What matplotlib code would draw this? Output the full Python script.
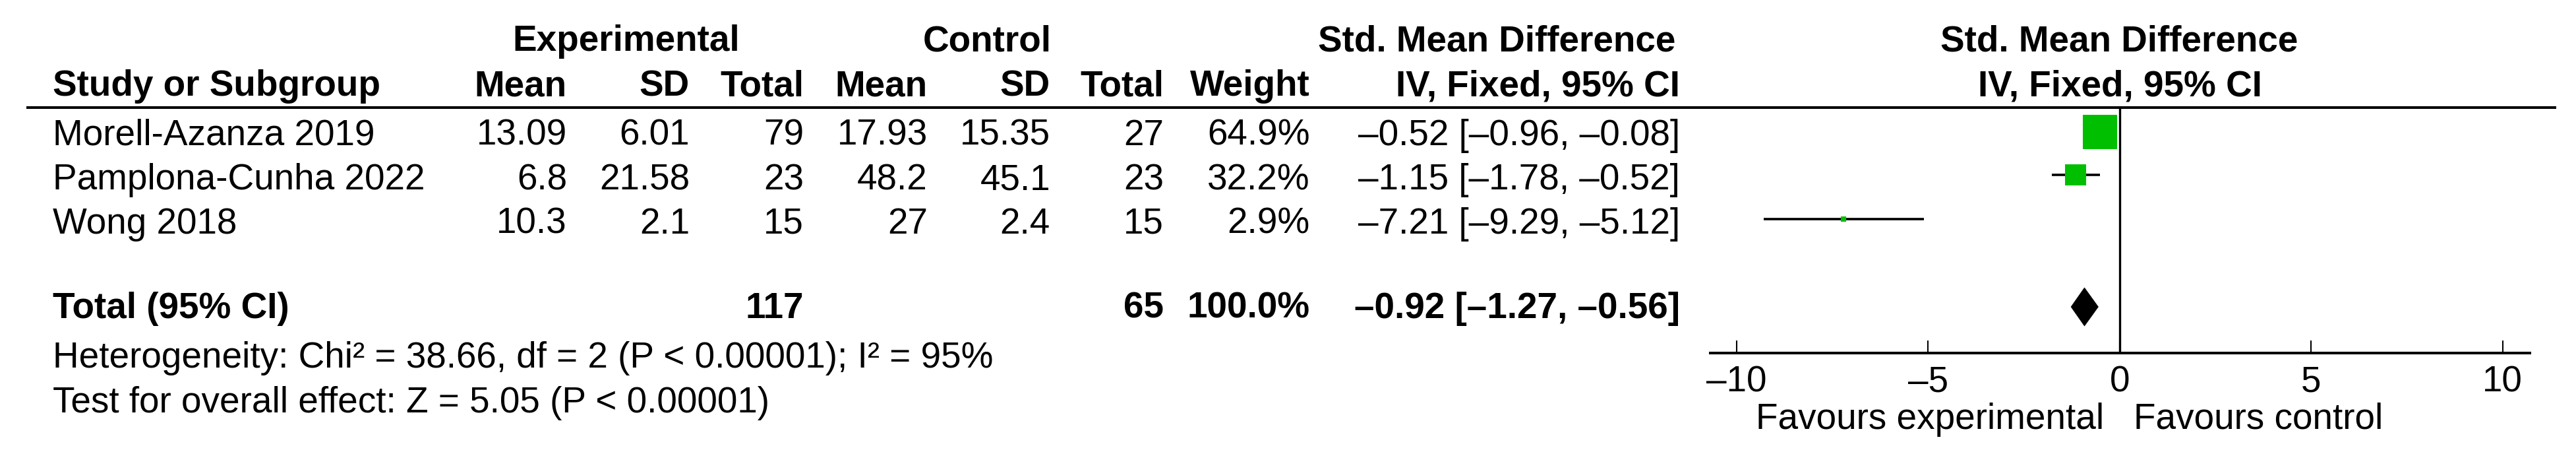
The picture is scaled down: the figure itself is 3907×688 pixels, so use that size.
import matplotlib
matplotlib.use("Agg")
import matplotlib.pyplot as plt
from matplotlib.patches import Polygon

# ---------------- data ----------------
studies = ["Morell-Azanza 2019", "Pamplona-Cunha 2022", "Wong 2018"]
exp_mean = ["13.09", "6.8", "10.3"]
exp_sd = ["6.01", "21.58", "2.1"]
exp_n = [79, 23, 15]
ctl_mean = ["17.93", "48.2", "27"]
ctl_sd = ["15.35", "45.1", "2.4"]
ctl_n = [27, 23, 15]
weights = [64.9, 32.2, 2.9]
smd = [-0.52, -1.15, -7.21]
ci_lo = [-0.96, -1.78, -9.29]
ci_hi = [-0.08, -0.52, -5.12]

total_label = "Total (95% CI)"
total_exp_n = 117
total_ctl_n = 65
total_weight = 100.0
total_smd = -0.92
total_lo = -1.27
total_hi = -0.56

het_text = "Heterogeneity: Chi\u00b2 = 38.66, df = 2 (P < 0.00001); I\u00b2 = 95%"
test_text = "Test for overall effect: Z = 5.05 (P < 0.00001)"

xticks = [-10, -5, 0, 5, 10]
xticklabels = ["\u201310", "\u20135", "0", "5", "10"]
favours_left = "Favours experimental"
favours_right = "Favours control"

# ---------------- layout ----------------
W, H = 3907, 688
DPI = 100
FONT = "Liberation Sans"
FS = 39.5
GREEN = "#00BF00"

plt.rcParams["font.family"] = [FONT, "DejaVu Sans"]

fig = plt.figure(figsize=(W / DPI, H / DPI), dpi=DPI)
fig.patch.set_facecolor("white")

ax0 = fig.add_axes([0, 0, 1, 1])
ax0.set_xlim(0, W)
ax0.set_ylim(H, 0)
ax0.axis("off")


def fmt(v):
    return f"{v:.2f}".replace("-", "\u2013")


def ci_str(e, lo, hi):
    return f"{fmt(e)} [{fmt(lo)}, {fmt(hi)}]"


def txt(x, y, s, ha="left", bold=False):
    ax0.text(x, y, s, ha=ha, va="baseline", fontsize=FS,
             fontweight="bold" if bold else "normal", color="black")


# column right edges (px)
X_STUDY = 80
X_EM, X_ESD, X_EN = 860, 1046, 1219
X_CM, X_CSD, X_CN = 1407, 1593, 1765
X_W, X_CI = 1987, 2548

Y_H1, Y_H2 = 77, 145
row_base = [220, 287, 354]
Y_TOT = 482
Y_HET, Y_TEST = 557, 625

# headers
txt(950, Y_H1, "Experimental", ha="center", bold=True)
txt(1497, Y_H1, "Control", ha="center", bold=True)
txt(2270, Y_H1, "Std. Mean Difference", ha="center", bold=True)
txt(3214, Y_H1, "Std. Mean Difference", ha="center", bold=True)
txt(X_STUDY, Y_H2, "Study or Subgroup", bold=True)
for x, s in [(X_EM, "Mean"), (X_ESD, "SD"), (X_EN, "Total"),
             (X_CM, "Mean"), (X_CSD, "SD"), (X_CN, "Total"),
             (X_W, "Weight"), (X_CI, "IV, Fixed, 95% CI")]:
    txt(x, Y_H2, s, ha="right", bold=True)
txt(3215, Y_H2, "IV, Fixed, 95% CI", ha="center", bold=True)

# rule under header
ax0.plot([40, 3877], [163, 163], color="black", lw=2.9, solid_capstyle="butt")

# study rows
for i, yb in enumerate(row_base):
    txt(X_STUDY, yb, studies[i])
    txt(X_EM, yb, exp_mean[i], ha="right")
    txt(X_ESD, yb, exp_sd[i], ha="right")
    txt(X_EN, yb, str(exp_n[i]), ha="right")
    txt(X_CM, yb, ctl_mean[i], ha="right")
    txt(X_CSD, yb, ctl_sd[i], ha="right")
    txt(X_CN, yb, str(ctl_n[i]), ha="right")
    txt(X_W, yb, f"{weights[i]:.1f}%", ha="right")
    txt(X_CI, yb, ci_str(smd[i], ci_lo[i], ci_hi[i]), ha="right")

# total row
txt(X_STUDY, Y_TOT, total_label, bold=True)
txt(X_EN, Y_TOT, str(total_exp_n), ha="right", bold=True)
txt(X_CN, Y_TOT, str(total_ctl_n), ha="right", bold=True)
txt(X_W, Y_TOT, f"{total_weight:.1f}%", ha="right", bold=True)
txt(X_CI, Y_TOT, ci_str(total_smd, total_lo, total_hi), ha="right", bold=True)

txt(X_STUDY, Y_HET, het_text)
txt(X_STUDY, Y_TEST, test_text)

# ---------------- forest panel ----------------
PX_L, PX_R, PX_T, PX_B = 2594, 3837, 163, 535
axf = fig.add_axes([PX_L / W, 1 - PX_B / H, (PX_R - PX_L) / W, (PX_B - PX_T) / H])
axf.set_xlim(-10.69, 10.71)
axf.set_ylim(PX_B, PX_T)  # y data = pixel rows
axf.patch.set_alpha(0)
for side in ["top", "left", "right"]:
    axf.spines[side].set_visible(False)
axf.spines["bottom"].set_linewidth(2.9)
axf.set_yticks([])
axf.set_xticks(xticks)
axf.set_xticklabels(xticklabels, fontsize=FS, family=FONT)
axf.tick_params(axis="x", direction="in", length=13.7, width=1.5, pad=13.5,
                colors="black")

axf.axvline(0, color="black", lw=2.4, zorder=2)

row_center = [199.5, 265, 332]
for i, yc in enumerate(row_center):
    axf.plot([ci_lo[i], ci_hi[i]], [yc, yc], color="black", lw=2.6,
             solid_capstyle="butt", zorder=3)
    side_px = max(53 * (weights[i] / max(weights)) ** 0.75, 8)
    axf.plot([smd[i]], [yc], marker="s", ms=side_px * 72 / DPI,
             color=GREEN, mew=0, ls="none", zorder=4)

# diamond
yc_tot = 465
half_h = 29
axf.add_patch(Polygon([(total_lo, yc_tot), (total_smd, yc_tot - half_h),
                       (total_hi, yc_tot), (total_smd, yc_tot + half_h)],
                      closed=True, facecolor="black", edgecolor="black",
                      lw=0.5, zorder=4))

# favours labels
axf.text(-0.41, 650, favours_left, ha="right", va="baseline", fontsize=FS,
         clip_on=False)
axf.text(0.36, 650, favours_right, ha="left", va="baseline", fontsize=FS,
         clip_on=False)

fig.savefig("out.png", dpi=DPI, facecolor="white")
